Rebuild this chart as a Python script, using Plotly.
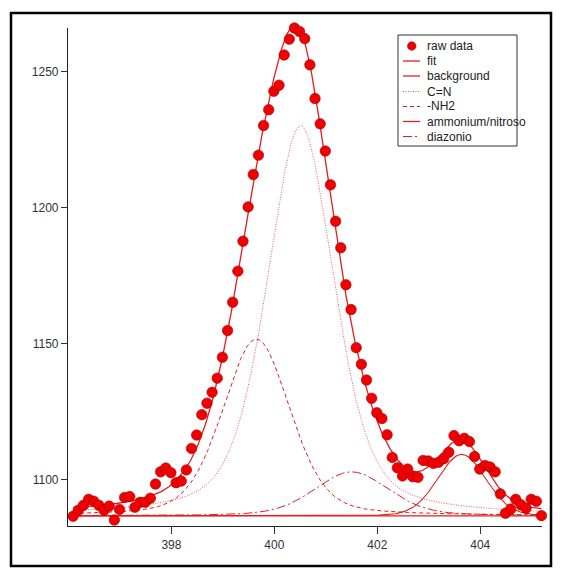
import plotly.graph_objects as go
import numpy as np

# ---- data ----
binding_energy = [396.09, 396.19, 396.29, 396.39, 396.49, 396.59, 396.69, 396.79, 396.89, 396.99,
                  397.09, 397.19, 397.29, 397.39, 397.49, 397.59, 397.69, 397.79, 397.89, 397.99,
                  398.09, 398.19, 398.29, 398.39, 398.49, 398.59, 398.69, 398.79, 398.89, 398.99,
                  399.09, 399.19, 399.29, 399.39, 399.49, 399.59, 399.69, 399.79, 399.89, 399.99,
                  400.09, 400.19, 400.29, 400.39, 400.49, 400.59, 400.69, 400.79, 400.89, 400.99,
                  401.09, 401.19, 401.29, 401.39, 401.49, 401.59, 401.69, 401.79, 401.89, 401.99,
                  402.09, 402.19, 402.29, 402.39, 402.49, 402.59, 402.69, 402.79, 402.89, 402.99,
                  403.09, 403.19, 403.29, 403.39, 403.49, 403.59, 403.69, 403.79, 403.89, 403.99,
                  404.09, 404.19, 404.29, 404.39, 404.49, 404.59, 404.69, 404.79, 404.89, 404.99,
                  405.09, 405.19]
raw_counts = [1086.7, 1088.9, 1090.7, 1092.9, 1092.2, 1090.7, 1088.9, 1090.4, 1085.3, 1089.2,
              1093.6, 1093.9, 1090.0, 1091.8, 1091.8, 1093.3, 1098.5, 1103.0, 1104.4, 1102.7,
              1099.0, 1099.6, 1103.7, 1111.6, 1116.5, 1124.0, 1128.2, 1132.2, 1137.4, 1145.1,
              1154.9, 1165.3, 1176.7, 1187.7, 1200.3, 1212.2, 1219.3, 1230.2, 1236.0, 1242.8,
              1245.0, 1256.1, 1261.9, 1266.0, 1264.7, 1262.1, 1252.5, 1240.1, 1230.8, 1220.8,
              1208.4, 1195.0, 1185.3, 1171.7, 1162.6, 1148.6, 1142.5, 1136.7, 1130.0, 1124.7,
              1122.6, 1116.6, 1108.3, 1104.5, 1101.5, 1104.0, 1101.2, 1101.0, 1107.2, 1107.0,
              1106.1, 1106.5, 1107.8, 1110.2, 1116.3, 1114.4, 1115.3, 1114.1, 1108.6, 1104.0,
              1105.3, 1104.8, 1103.0, 1094.9, 1087.8, 1089.3, 1092.9, 1090.9, 1089.6, 1092.9,
              1092.2, 1086.9]

# fitted component parameters
component_names = ["C=N", "-NH2", "ammonium/nitroso", "diazonio"]
component_centers = [400.51, 399.65, 403.64, 401.50]
component_heights = [143.3, 64.9, 22.6, 16.2]
component_fwhm = [1.55, 1.55, 1.1, 1.7]
component_lorentz_frac = [0.45, 0.3, 0.1, 0.3]
background_level = 1086.8

x_ticks = [398, 400, 402, 404]
y_ticks = [1100, 1150, 1200, 1250]

# ---- model curves ----
xf = np.linspace(binding_energy[0], binding_energy[-1], 600)


def pseudo_voigt(x, c, h, w, eta):
    u = 4.0 * (x - c) ** 2 / w ** 2
    return h * (eta / (1.0 + u) + (1.0 - eta) * np.exp(-np.log(2.0) * u))


comps = [background_level + pseudo_voigt(xf, c, h, w, e)
         for c, h, w, e in zip(component_centers, component_heights,
                               component_fwhm, component_lorentz_frac)]
fit_curve = background_level + sum(pseudo_voigt(xf, c, h, w, e)
                                    for c, h, w, e in zip(component_centers, component_heights,
                                                          component_fwhm, component_lorentz_frac))
bg_curve = np.full_like(xf, background_level)

RED = "rgb(228,28,28)"
LIGHT = "rgb(232,90,90)"


def style_for(name, legend=False):
    if name == "C=N":
        return dict(color=LIGHT, width=1, dash="1px,1.5px")
    if name == "-NH2":
        return dict(color=RED, width=1.1 if legend else 1, dash="4px,3px")
    if name == "ammonium/nitroso":
        return dict(color=RED, width=1.3 if legend else 1.1, dash="solid")
    if name == "diazonio":
        return dict(color=RED, width=1.1 if legend else 1, dash="9px,3px,2px,3px")
    return dict(color=RED, width=1.3, dash="solid")


fig = go.Figure()
fig.add_trace(go.Scatter(x=xf, y=bg_curve, mode="lines", name="background",
                         line=style_for("background")))
for name, yc in zip(component_names, comps):
    fig.add_trace(go.Scatter(x=xf, y=yc, mode="lines", name=name, line=style_for(name)))
fig.add_trace(go.Scatter(x=xf, y=fit_curve, mode="lines", name="fit",
                         line=style_for("fit")))
fig.add_trace(go.Scatter(x=binding_energy, y=raw_counts, mode="markers", name="raw data",
                         cliponaxis=False,
                         marker=dict(color="rgb(240,0,0)", size=10.5,
                                     line=dict(color="rgb(160,0,0)", width=0.6))))

# ---- manual legend (pixel layout converted to paper coords) ----
L, R, T, B = 68, 542, 28, 526
W, H = R - L, B - T


def px(x):
    return (x - L) / W


def py(y):
    return (B - y) / H


shapes = []
annotations = []
# outer frame
shapes.append(dict(type="rect", xref="paper", yref="paper",
                   x0=px(11), x1=px(551), y0=py(566), y1=py(13),
                   line=dict(color="black", width=2.5)))
# legend box
shapes.append(dict(type="rect", xref="paper", yref="paper",
                   x0=px(398), x1=px(517), y0=py(146), y1=py(35),
                   line=dict(color="#333333", width=1), fillcolor="white"))
legend_rows = ["raw data", "fit", "background", "C=N", "-NH2", "ammonium/nitroso", "diazonio"]
row_y = [46, 61, 76, 91.5, 106.5, 121.5, 136.5]
for name, yy in zip(legend_rows, row_y):
    if name == "raw data":
        shapes.append(dict(type="circle", xref="paper", yref="paper",
                           x0=px(407.5), x1=px(416), y0=py(yy + 4.25), y1=py(yy - 4.25),
                           fillcolor="rgb(240,0,0)", line=dict(color="rgb(160,0,0)", width=0.6)))
    else:
        shapes.append(dict(type="line", xref="paper", yref="paper",
                           x0=px(403), x1=px(420), y0=py(yy), y1=py(yy),
                           line=style_for(name, legend=True)))
    annotations.append(dict(xref="paper", yref="paper", x=px(425), y=py(yy),
                            xanchor="left", yanchor="middle", text=name, showarrow=False,
                            font=dict(family="Liberation Sans, Arial", size=12, color="#222222")))

fig.update_layout(
    width=562, height=568,
    margin=dict(l=L, r=562 - R, t=T, b=568 - B, pad=0),
    paper_bgcolor="white", plot_bgcolor="white",
    showlegend=False,
    shapes=shapes, annotations=annotations,
    font=dict(family="Liberation Sans, Arial", size=12, color="#333333"),
    xaxis=dict(range=[395.99, 405.2], tickvals=x_ticks, ticks="outside", ticklen=7,
               tickcolor="#333333", showline=True, linecolor="#222222", linewidth=1.2,
               showgrid=False, zeroline=False, tickfont=dict(size=12)),
    yaxis=dict(range=[1083.1, 1266.0], tickvals=y_ticks, ticks="outside", ticklen=6,
               tickcolor="#333333", showline=True, linecolor="#222222", linewidth=1.2,
               showgrid=False, zeroline=False, tickfont=dict(size=12)),
)

fig.write_html("out.html", config={"displayModeBar": False},
               post_script="document.body.style.margin='0';document.body.style.overflow='hidden';")
